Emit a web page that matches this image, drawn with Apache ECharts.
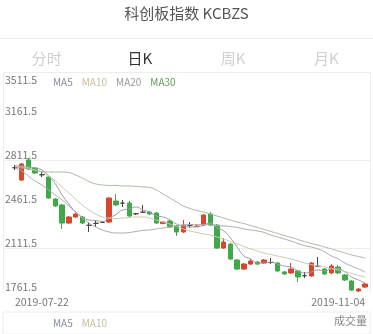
<!DOCTYPE html>
<html>
<head>
<meta charset="utf-8">
<script src="https://cdn.jsdelivr.net/npm/echarts@6.0.0/dist/echarts.min.js"></script>
<style>
  html, body { margin: 0; padding: 0; background: #fff; }
  #chart { width: 373px; height: 334px; }
</style>
</head>
<body>
<div id="chart"></div>
<script>
// ── 数据 ────────────────────────────────────────────────
const DATES = [
  '2019-07-22','2019-07-23','2019-07-24','2019-07-25','2019-07-26','2019-07-29','2019-07-30','2019-07-31',
  '2019-08-01','2019-08-02','2019-08-05','2019-08-06','2019-08-07','2019-08-08','2019-08-09','2019-08-12',
  '2019-08-13','2019-08-14','2019-08-15','2019-08-16','2019-08-19','2019-08-20','2019-08-21','2019-08-22',
  '2019-08-23','2019-08-26','2019-08-27','2019-08-28','2019-08-29','2019-08-30','2019-09-02','2019-09-03',
  '2019-09-04','2019-09-05','2019-09-06','2019-09-09','2019-09-10','2019-09-11','2019-09-12','2019-09-16',
  '2019-09-17','2019-09-18','2019-09-19','2019-09-20','2019-09-23','2019-09-24','2019-09-25','2019-09-26',
  '2019-09-27','2019-09-30','2019-10-08','2019-10-09','2019-11-04'
]

// [open, close, low, high]
const KLINE = [
  [2750,2750,2732,2772],[2652,2780,2644,2788],[2812,2740,2732,2827],[2748,2708,2700,2756],
  [2694,2694,2676,2716],[2676,2509,2501,2684],[2501,2446,2438,2509],[2454,2310,2263,2462],
  [2310,2358,2302,2366],[2358,2382,2350,2390],[2358,2310,2302,2366],[2292,2292,2239,2318],
  [2308,2308,2279,2334],[2316,2316,2310,2326],[2318,2509,2310,2517],[2485,2454,2446,2541],
  [2468,2468,2438,2493],[2469,2366,2358,2485],[2384,2384,2374,2390],[2396,2396,2390,2454],
  [2398,2382,2374,2406],[2390,2310,2302,2398],[2306,2318,2302,2326],[2326,2279,2271,2334],
  [2286,2239,2207,2294],[2239,2294,2231,2334],[2292,2292,2271,2318],[2283,2286,2279,2294],
  [2294,2374,2286,2382],[2382,2294,2286,2398],[2294,2111,2104,2302],[2111,2159,2104,2191],
  [2143,2024,2016,2151],[2016,1944,1937,2024],[1944,1984,1937,1992],[1984,2008,1976,2024],
  [2000,1984,1976,2008],[1992,2016,1984,2024],[1996,1996,1984,2032],[1992,1929,1921,2000],
  [1921,1905,1897,1929],[1913,1944,1905,1992],[1929,1881,1841,1937],[1891,1891,1873,1921],
  [1889,1992,1881,2000],[1966,1966,1960,2040],[1944,1905,1897,1952],[1913,1968,1905,1984],
  [1960,1913,1905,1976],[1897,1857,1849,1905],[1849,1777,1769,1857],[1769,1785,1762,1793],
  [1801,1825,1793,1833]
]

const MA5 = [
  2764,2764,2756,2748,2732,2684,2621,2533,2462,2398,2358,2334,2330,2322,2350,2378,
  2414,2422,2438,2414,2398,2366,2358,2334,2302,2287,2279,2279,2294,2310,2271,2247,
  2191,2119,2048,2024,1992,1992,2000,1984,1968,1960,1929,1913,1921,1937,1929,1945,
  1948,1921,1881,1857,1833
]
const MA10 = [
  2764,2756,2748,2732,2716,2684,2644,2597,2549,2501,2454,2414,2382,2358,2350,2346,
  2350,2354,2358,2358,2350,2334,2318,2302,2283,2263,2247,2235,2223,2215,2199,2183,
  2163,2143,2123,2104,2088,2072,2060,2048,2036,2024,2008,1992,1980,1968,1960,1948,
  1937,1925,1909,1893,1881
]
const MA20 = [
  2748,2724,2684,2644,2613,2573,2533,2493,2446,2398,2350,2310,2279,2255,2239,2231,
  2231,2235,2243,2251,2255,2263,2271,2279,2287,2294,2298,2298,2298,2294,2290,2287,
  2283,2275,2263,2255,2247,2235,2215,2199,2183,2167,2147,2131,2119,2104,2080,2048,
  2024,1992,1968,1945,1921
]
const MA30 = [
  2756,2748,2740,2728,2720,2716,2716,2716,2712,2692,2668,2640,2621,2613,2609,2609,
  2605,2605,2601,2597,2593,2573,2541,2509,2477,2446,2426,2410,2398,2382,2366,2350,
  2334,2318,2306,2290,2275,2259,2243,2227,2211,2195,2179,2163,2147,2135,2119,2104,
  2088,2072,2056,2044,2032
]

const Y_TICKS = ['1761.5', '2111.5', '2461.5', '2811.5', '3161.5', '3511.5']
const TABS = ['分时', '日K', '周K', '月K']

// ── 配色 ────────────────────────────────────────────────
const FONT = 'Noto Sans CJK SC'
const RED = '#d8462f'
const GREEN = '#3fa948'
const MA_NAMES  = ['MA5', 'MA10', 'MA20', 'MA30']
const MA_DATA   = [MA5, MA10, MA20, MA30]
const MA_COLORS = ['#8a8f9c', '#c9bd9b', '#9a9a9a', '#5f9f55']
const LINE_COLORS = ['#9c9ea6', '#cfc6ad', '#ababab', '#a9b9a6']

const yMin = Number(Y_TICKS[0])
const yMax = Number(Y_TICKS[Y_TICKS.length - 1])
const yStep = Number(Y_TICKS[1]) - yMin

const chart = echarts.init(document.getElementById('chart'), null, { renderer: 'canvas' })

const tabTitles = TABS.map((t, i) => ({
  text: t,
  left: 373 / 8 * (2 * i + 1),
  textAlign: 'center',
  top: 51,
  padding: 0,
  textStyle: { fontFamily: FONT, fontSize: 15, fontWeight: 'normal', color: i === 1 ? '#333' : '#cfcfcf' },
}))

const labelStyle = { fontFamily: FONT, fontSize: 10.5, color: '#777' }
const legendText = { fontFamily: FONT, fontSize: 10 }

chart.setOption({
  backgroundColor: '#fff',
  animation: false,
  title: [
    {
      text: '科创板指数 KCBZS', left: 'center', top: 6, padding: 0,
      textStyle: { fontFamily: FONT, fontSize: 15, fontWeight: 'normal', color: '#555' },
    },
    ...tabTitles,
    {
      text: '成交量', right: 6, top: 315, padding: 0,
      textStyle: { fontFamily: FONT, fontSize: 11, fontWeight: 'normal', color: '#888' },
    },
  ],
  graphic: [
    { type: 'line', shape: { x1: 0, y1: 38.5, x2: 373, y2: 38.5 }, style: { stroke: '#eee', lineWidth: 1 } },
  ],
  legend: [
    {
      left: 48, top: 75, icon: 'none', itemWidth: 0, itemGap: 4, padding: 0,
      selectedMode: false,
      data: MA_NAMES.map((n, i) => ({ name: n, textStyle: { color: MA_COLORS[i] } })),
      textStyle: legendText,
    },
    {
      left: 48, top: 316, icon: 'none', itemWidth: 0, itemGap: 4, padding: 0,
      selectedMode: false,
      data: MA_NAMES.slice(0, 2).map((n, i) => ({ name: n, textStyle: { color: MA_COLORS[i] } })),
      textStyle: legendText,
    },
  ],
  grid: [
    { left: 3, right: 3, top: 72, bottom: 42 },          // 外框 / 刻度
    { left: 11.6, right: 4.5, top: 72, bottom: 42 },     // K线
    { left: 3, right: 3, top: 312, bottom: -20, show: true, borderColor: '#ececec', borderWidth: 1 }, // 成交量
  ],
  xAxis: [
    {
      gridIndex: 0, type: 'value', min: 0, max: 1, interval: 1,
      axisLine: { show: false }, axisTick: { show: false }, axisLabel: { show: false },
      splitLine: { show: true, lineStyle: { color: '#eee' } },
    },
    {
      gridIndex: 1, type: 'category', data: DATES,
      axisLine: { show: false }, axisTick: { show: false }, splitLine: { show: false },
      axisLabel: {
        ...labelStyle, margin: 5,
        interval: (i) => i === 0 || i === DATES.length - 1,
        alignMinLabel: 'left', alignMaxLabel: 'right',
      },
    },
    { gridIndex: 2, type: 'value', show: false },
  ],
  yAxis: [
    {
      gridIndex: 0, type: 'value', position: 'left', min: 0, max: yMax - yMin, interval: yStep,
      axisLine: { show: false }, axisTick: { show: false },
      axisLabel: {
        ...labelStyle, inside: true, margin: 2, align: 'left', verticalAlign: 'bottom',
        showMaxLabel: false,
        formatter: (v, i) => Y_TICKS[i],
      },
      splitLine: { show: true, lineStyle: { color: ['transparent', '#eee'] } },
    },
    {
      gridIndex: 0, type: 'value', position: 'left', offset: 0, min: 0, max: yMax - yMin, interval: yMax - yMin,
      axisLine: { show: false }, axisTick: { show: false }, splitLine: { show: false },
      axisLabel: {
        ...labelStyle, inside: true, margin: 2, align: 'left', verticalAlign: 'top',
        padding: [3, 0, 0, 0],
        showMinLabel: false,
        formatter: () => Y_TICKS[Y_TICKS.length - 1],
      },
    },
    { gridIndex: 1, type: 'value', min: yMin, max: yMax, show: false, splitLine: { show: false } },
    { gridIndex: 2, type: 'value', show: false },
  ],
  series: [
    {
      type: 'candlestick', name: 'K', xAxisIndex: 1, yAxisIndex: 2,
      data: KLINE, barWidth: 5,
      itemStyle: {
        color: RED, color0: GREEN,
        borderColor: RED, borderColor0: GREEN,
        borderColorDoji: '#444', borderWidth: 1,
      },
    },
    ...MA_NAMES.map((n, i) => ({
      type: 'line', name: n, xAxisIndex: 1, yAxisIndex: 2,
      data: MA_DATA[i], smooth: true, symbol: 'none',
      lineStyle: { width: 1, color: LINE_COLORS[i] },
      itemStyle: { color: MA_COLORS[i] },
    })),
  ],
})
</script>
</body>
</html>
